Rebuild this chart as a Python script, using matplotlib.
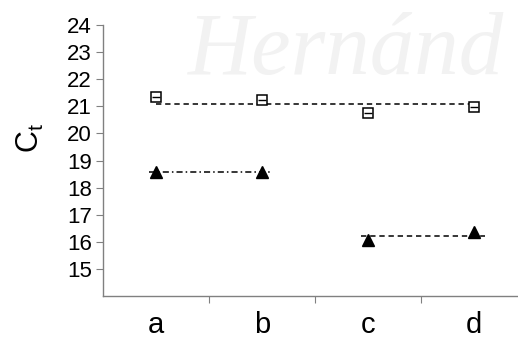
import matplotlib
matplotlib.use('Agg')
import matplotlib.pyplot as plt

plt.rcParams['font.family'] = ['Liberation Sans', 'DejaVu Sans']

# datos
categories = ['a', 'b', 'c', 'd']
squares = [21.33, 21.25, 20.75, 20.98]
triangles = [18.57, 18.57, 16.08, 16.38]
square_mean = 21.10
tri_mean_ab = 18.57
tri_mean_cd = 16.22
yticks = list(range(15, 25))

fig = plt.figure(figsize=(5.18, 3.40), dpi=100)

# marca de agua tenue
fig.text(188 / 518, 1 - 74 / 340, 'Hernánd', fontsize=64, family='Liberation Serif',
         style='italic', color='#f2f2f2', zorder=0)

ax = fig.add_axes([103 / 518, 44 / 340, 424 / 518, 271 / 340])
ax.patch.set_alpha(0)

x = list(range(len(categories)))

# líneas de referencia
ax.plot([x[0], x[3]], [square_mean] * 2, ls=(0, (3.5, 2.5)), color='black', lw=1.1)
ax.plot([x[0] - 0.07, x[1] + 0.09], [tri_mean_ab] * 2, ls=(0, (4, 2, 1, 2)),
        color='black', lw=1.1)
ax.plot([x[2] - 0.07, x[3] + 0.1], [tri_mean_cd] * 2, ls=(0, (3.5, 2.5)),
        color='black', lw=1.1)

# puntos
ax.plot(x, squares, ls='none', marker='s', ms=6.5, mfc='white', mec='black', mew=1.1)
ax.plot(x, squares, ls='none', marker='_', ms=6, mec='black', mew=1.0)
ax.plot(x, triangles, ls='none', marker='^', ms=9, color='black')

ax.set_ylim(14, 24)
ax.set_xlim(-0.5, 3.5)
ax.set_yticks(yticks)
ax.set_yticklabels([str(t) for t in yticks])
ax.set_xticks([0.5, 1.5, 2.5])
ax.set_xticklabels([])
ax.set_xticks(x, minor=True)
ax.set_xticklabels(categories, minor=True, fontsize=21)
ax.tick_params(axis='x', which='minor', length=0, pad=11)
ax.tick_params(axis='x', which='major', length=5, color='#808080', direction='out')
ax.tick_params(axis='y', length=5, color='#808080', labelsize=16, pad=3)

for s in ['top', 'right']:
    ax.spines[s].set_visible(False)
for s in ['left', 'bottom']:
    ax.spines[s].set_color('#808080')
    ax.spines[s].set_linewidth(1.0)

ax.set_ylabel('C$_\\mathregular{t}$', fontsize=22)
ax.yaxis.set_label_coords(-0.135, 0.585)

fig.savefig('out.png', dpi=100)
